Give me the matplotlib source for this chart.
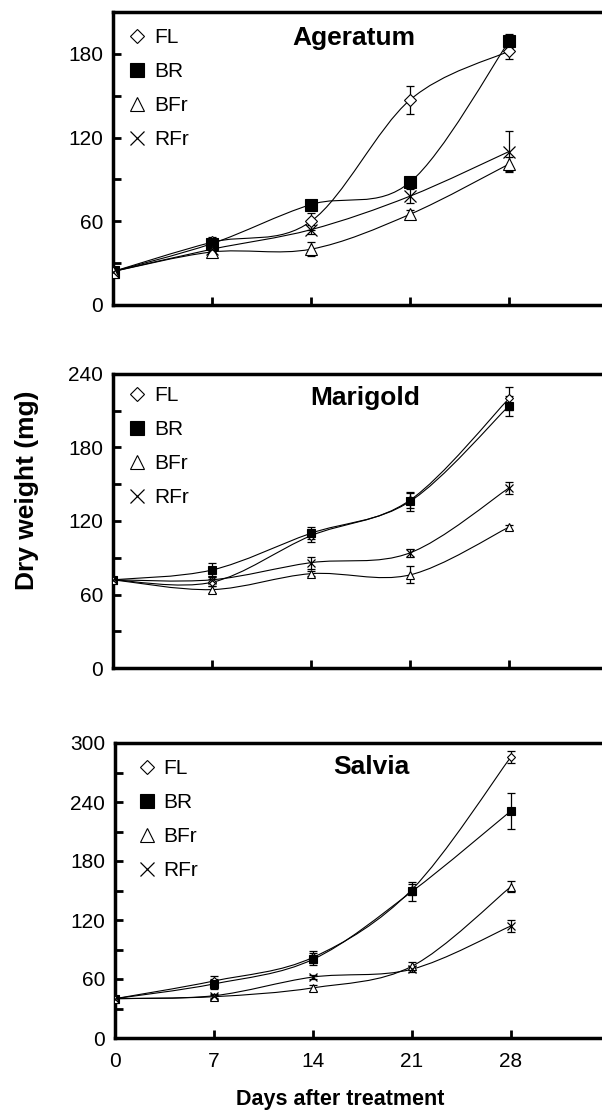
import numpy as np
import matplotlib
matplotlib.use("Agg")
import matplotlib.pyplot as plt
from matplotlib.path import Path
from matplotlib.patches import PathPatch

plt.rcParams['font.family'] = ['Liberation Sans', 'DejaVu Sans']

days = [0, 7, 14, 21, 28]
treatments = ["FL", "BR", "BFr", "RFr"]

# Ageratum
ageratum_fl = [24, 45, 60, 147, 182]
ageratum_br = [24, 44, 72, 88, 189]
ageratum_bfr = [24, 38, 40, 65, 101]
ageratum_rfr = [24, 40, 54, 78, 110]
ageratum_fl_err = [1, 3, 6, 10, 6]
ageratum_br_err = [1, 5, 2, 4, 5]
ageratum_bfr_err = [1, 2, 5, 3, 5]
ageratum_rfr_err = [1, 2, 3, 5, 15]

# Marigold
marigold_fl = [72, 70, 108, 137, 220]
marigold_br = [72, 80, 110, 136, 214]
marigold_bfr = [72, 64, 77, 76, 115]
marigold_rfr = [72, 72, 86, 94, 147]
marigold_fl_err = [1, 3, 5, 6, 9]
marigold_br_err = [1, 6, 5, 8, 8]
marigold_bfr_err = [1, 3, 2, 7, 2]
marigold_rfr_err = [1, 3, 5, 3, 5]

# Salvia
salvia_fl = [40, 58, 82, 151, 286]
salvia_br = [40, 55, 80, 149, 231]
salvia_bfr = [40, 42, 51, 73, 154]
salvia_rfr = [40, 43, 62, 70, 114]
salvia_fl_err = [1, 5, 6, 6, 6]
salvia_br_err = [1, 5, 6, 10, 18]
salvia_bfr_err = [1, 2, 3, 4, 6]
salvia_rfr_err = [1, 2, 2, 3, 6]

panels = [
    ("Ageratum", [ageratum_fl, ageratum_br, ageratum_bfr, ageratum_rfr],
     [ageratum_fl_err, ageratum_br_err, ageratum_bfr_err, ageratum_rfr_err],
     210, [0, 60, 120, 180]),
    ("Marigold", [marigold_fl, marigold_br, marigold_bfr, marigold_rfr],
     [marigold_fl_err, marigold_br_err, marigold_bfr_err, marigold_rfr_err],
     240, [0, 60, 120, 180, 240]),
    ("Salvia", [salvia_fl, salvia_br, salvia_bfr, salvia_rfr],
     [salvia_fl_err, salvia_br_err, salvia_bfr_err, salvia_rfr_err],
     300, [0, 60, 120, 180, 240, 300]),
]

marker_styles = [
    dict(marker="D", ms=6, mfc="white", mec="black", mew=0.8),
    dict(marker="s", ms=8.5, mfc="black", mec="black", mew=0.8),
    dict(marker="^", ms=8.5, mfc="white", mec="black", mew=0.8),
    dict(marker="x", ms=8.5, mfc="black", mec="black", mew=0.9),
]


def scaled(style, f):
    s = dict(style)
    s["ms"] = style["ms"] * f
    return s


def smooth_path(ax, xs, ys):
    # Excel style smoothed line: cubic bezier through every point
    pts = np.column_stack([xs, ys]).astype(float)
    n = len(pts)
    verts = [pts[0]]
    codes = [Path.MOVETO]
    for i in range(n - 1):
        p_prev = pts[i - 1] if i > 0 else pts[i]
        p_next2 = pts[i + 2] if i + 2 < n else pts[i + 1]
        c1 = pts[i] + (pts[i + 1] - p_prev) / 6.0
        c2 = pts[i + 1] - (p_next2 - pts[i]) / 6.0
        verts += [c1, c2, pts[i + 1]]
        codes += [Path.CURVE4] * 3
    patch = PathPatch(Path(verts, codes), facecolor="none", edgecolor="black",
                      lw=0.8, zorder=2, transform=ax.transData)
    ax.add_patch(patch)


fig = plt.figure(figsize=(6.02, 11.17), dpi=100)
W, H = 602, 1117
boxes = [(113, 12, 305), (113, 374, 668), (115, 743, 1038)]
title_pos = [(0.487, 0.911), (0.509, 0.918), (0.517, 0.919)]
legend_pos = [(0.034, 0.945), (0.034, 0.958), (0.050, 0.945)]
marker_scale = [1.0, 0.7, 0.7]
xmax = 35.0
px_per_day = (509 - 113) / 28.0

for k, (name, series, errs, ymax, yticks) in enumerate(panels):
    left, top, bottom = boxes[k]
    width = xmax * px_per_day
    ax = fig.add_axes([left / W, 1 - bottom / H, width / W, (bottom - top) / H])
    for j, (vals, err) in enumerate(zip(series, errs)):
        smooth_path(ax, days, vals)
        ax.errorbar(days, vals, yerr=err, fmt="none", ecolor="black",
                    elinewidth=0.9, capsize=3, capthick=0.9, zorder=3)
        ax.plot(days, vals, linestyle="none", zorder=4,
                **scaled(marker_styles[j], marker_scale[k]))
        ax.plot([], [], linestyle="none", label=treatments[j],
                **scaled(marker_styles[j], 1.2))
    ax.set_xlim(0, xmax)
    ax.set_ylim(0, ymax)
    ax.set_xticks(days)
    ax.set_yticks(yticks)
    ax.set_yticks(np.arange(0, ymax + 1, 30), minor=True)
    ax.tick_params(axis="both", which="both", direction="in", width=2,
                   length=6, labelsize=15)
    ax.tick_params(axis="y", which="both", pad=7)
    ax.tick_params(axis="x", which="both", pad=10)
    if k < 2:
        ax.tick_params(axis="x", labelbottom=False)
    for s in ["left", "bottom", "top"]:
        ax.spines[s].set_linewidth(2.5)
    ax.spines["right"].set_visible(False)
    ax.text(title_pos[k][0], title_pos[k][1], name, transform=ax.transAxes,
            ha="center", va="center", fontsize=19, fontweight="bold")
    ax.legend(loc="upper left", bbox_to_anchor=legend_pos[k], frameon=False,
              fontsize=15, handlelength=0.7, handletextpad=0.45,
              labelspacing=0.72, borderaxespad=0, borderpad=0)

fig.text(27 / W, 1 - 490 / H, "Dry weight (mg)", rotation=90, ha="center",
         va="center", fontsize=19, fontweight="bold")
fig.text(340 / W, 1 - 1100 / H, "Days after treatment", ha="center",
         va="center", fontsize=15.5, fontweight="bold")

fig.savefig("out.png", dpi=100)
